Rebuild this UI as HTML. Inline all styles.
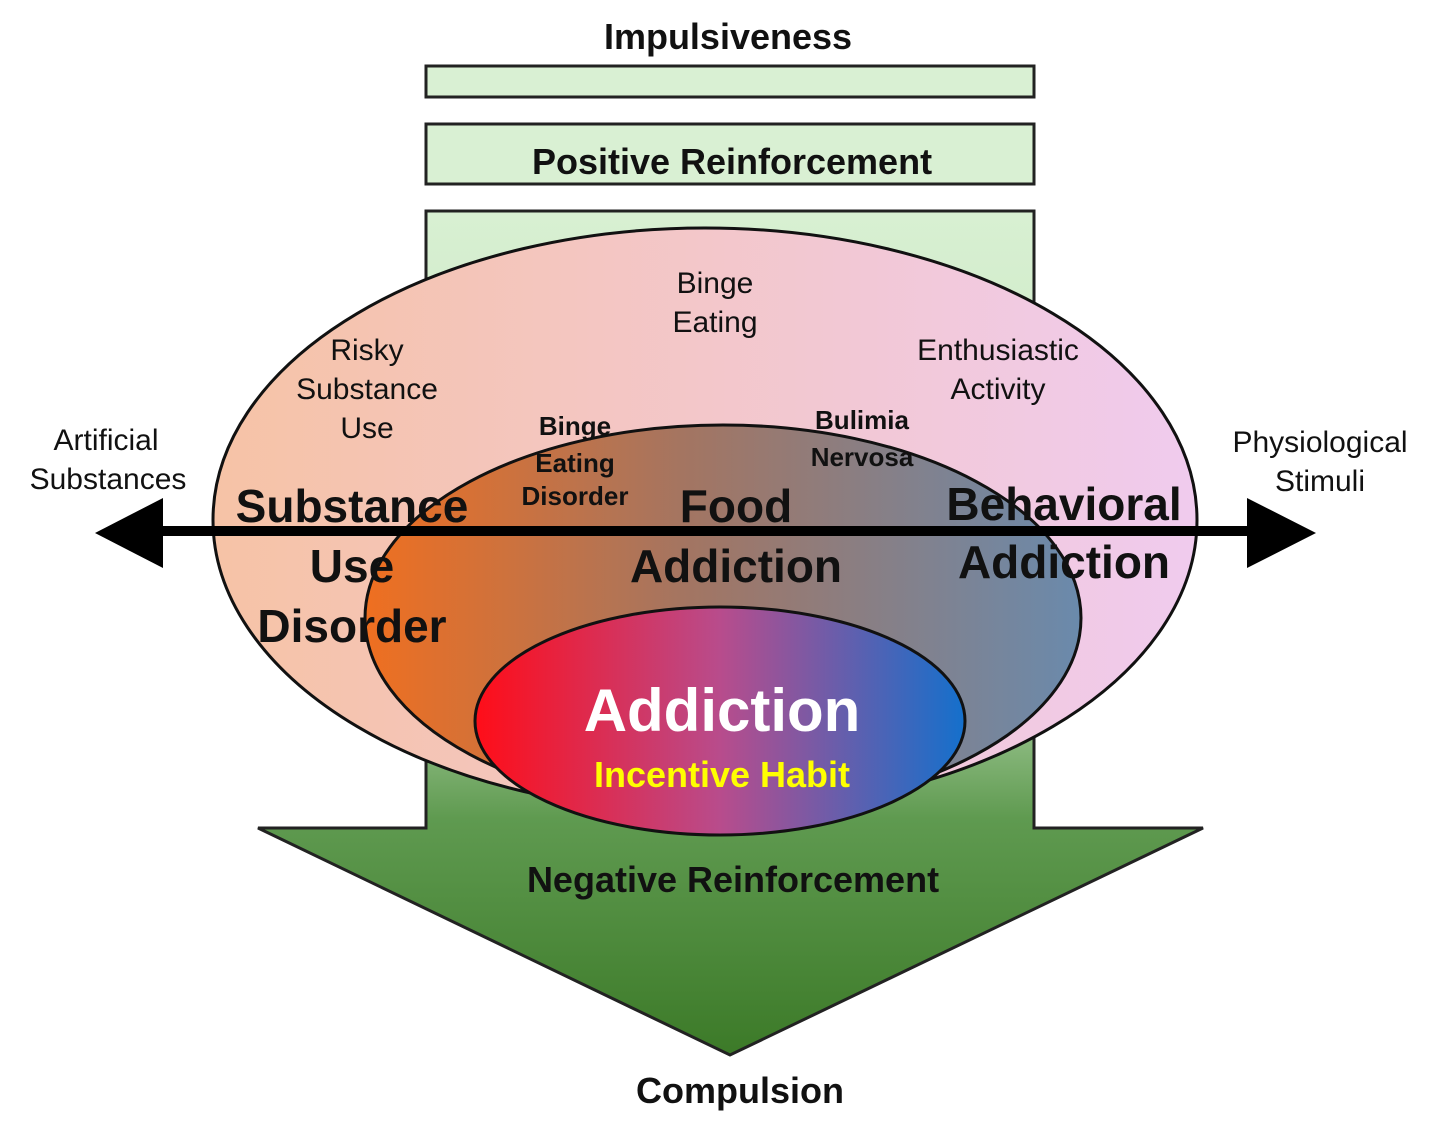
<!DOCTYPE html>
<html><head><meta charset="utf-8"><style>
html,body{margin:0;padding:0;background:#fff;}
svg text{font-family:"Liberation Sans",Arial,sans-serif;}
</style></head><body>
<svg width="1441" height="1136" viewBox="0 0 1441 1136" xmlns="http://www.w3.org/2000/svg">
<defs>
<linearGradient id="ar" x1="0" y1="0" x2="0" y2="1">
<stop offset="0" stop-color="#d8f0d2"/><stop offset="0.5" stop-color="#c4e2bc"/><stop offset="0.72" stop-color="#5f9a50"/><stop offset="1" stop-color="#3c7a28"/>
</linearGradient>
<linearGradient id="o1" x1="0" y1="0" x2="1" y2="0">
<stop offset="0" stop-color="#f6c3a6"/><stop offset="1" stop-color="#f0cbee"/>
</linearGradient>
<linearGradient id="o2" x1="0" y1="0" x2="1" y2="0">
<stop offset="0" stop-color="#ef6f20"/><stop offset="0.45" stop-color="#a37562"/><stop offset="1" stop-color="#6a8aac"/>
</linearGradient>
<linearGradient id="o3" x1="0" y1="0" x2="1" y2="0">
<stop offset="0" stop-color="#ff0d18"/><stop offset="0.5" stop-color="#b84c8c"/><stop offset="1" stop-color="#1470cc"/>
</linearGradient>
</defs>
<text x="728" y="49" font-size="36" font-weight="bold" text-anchor="middle" fill="#111">Impulsiveness</text>
<rect x="426" y="66" width="608" height="31" fill="#d9f0d3" stroke="#222" stroke-width="3"/>
<rect x="426" y="124" width="608" height="60" fill="#d9f0d3" stroke="#222" stroke-width="3"/>
<text x="732" y="174" font-size="36" font-weight="bold" text-anchor="middle" fill="#111">Positive Reinforcement</text>
<path d="M426 211 H1034 V828 H1203 L730 1055 L258 828 H426 Z" fill="url(#ar)" stroke="#222" stroke-width="3"/>
<ellipse cx="705" cy="520" rx="492" ry="292" fill="url(#o1)" stroke="#111" stroke-width="3"/>
<ellipse cx="723" cy="618" rx="358" ry="193" fill="url(#o2)" stroke="#111" stroke-width="3"/>
<ellipse cx="720" cy="721" rx="245" ry="114" fill="url(#o3)" stroke="#111" stroke-width="3"/>
<g font-size="30" fill="#111" text-anchor="middle">
<text x="715" y="293">Binge</text><text x="715" y="332">Eating</text>
<text x="367" y="360">Risky</text><text x="367" y="399">Substance</text><text x="367" y="438">Use</text>
<text x="998" y="360">Enthusiastic</text><text x="998" y="399">Activity</text>
<text x="106" y="450">Artificial</text><text x="108" y="489">Substances</text>
<text x="1320" y="452">Physiological</text><text x="1320" y="491">Stimuli</text>
</g>
<g font-size="26" font-weight="bold" fill="#111" text-anchor="middle">
<text x="575" y="435">Binge</text><text x="575" y="472">Eating</text><text x="575" y="505">Disorder</text>
<text x="862" y="429">Bulimia</text><text x="862" y="466">Nervosa</text>
</g>
<g font-size="46" font-weight="bold" fill="#111" text-anchor="middle">
<text x="352" y="522">Substance</text><text x="352" y="582">Use</text><text x="352" y="642">Disorder</text>
<text x="736" y="522">Food</text><text x="736" y="582">Addiction</text>
<text x="1064" y="520">Behavioral</text><text x="1064" y="578">Addiction</text>
</g>
<rect x="160" y="526" width="1090" height="10" fill="#000"/>
<polygon points="95,533 163,498 163,568" fill="#000"/>
<polygon points="1316,533 1247,498 1247,568" fill="#000"/>
<text x="722" y="731" font-size="60" font-weight="bold" fill="#fff" text-anchor="middle">Addiction</text>
<text x="722" y="787" font-size="36" font-weight="bold" fill="#ffff00" text-anchor="middle">Incentive Habit</text>
<text x="733" y="892" font-size="36" font-weight="bold" fill="#111" text-anchor="middle">Negative Reinforcement</text>
<text x="740" y="1103" font-size="36" font-weight="bold" fill="#111" text-anchor="middle">Compulsion</text>
</svg>
</body></html>
